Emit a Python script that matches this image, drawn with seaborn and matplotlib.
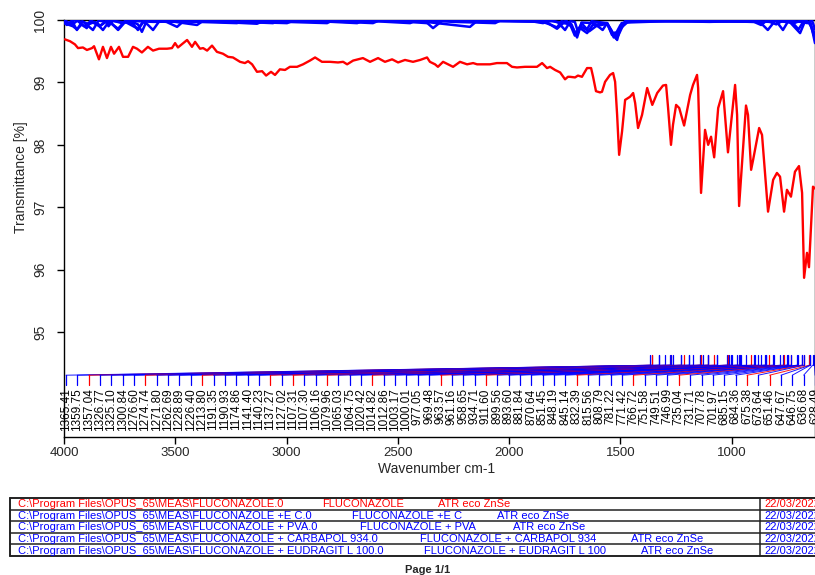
import numpy as np
import pandas as pd
import matplotlib
matplotlib.use("Agg")
import matplotlib.pyplot as plt
import seaborn as sns

# ---------------- data ----------------
red_wn = [3996, 3973, 3951, 3937, 3915, 3897, 3874, 3865, 3843, 3825, 3807, 3789, 3775, 3753,
          3735, 3712, 3690, 3672, 3650, 3623, 3600, 3573, 3537, 3515, 3501, 3488, 3447, 3425,
          3411, 3389, 3375, 3357, 3335, 3313, 3286, 3263, 3241, 3209, 3187, 3173, 3155, 3133,
          3110, 3092, 3070, 3052, 3030, 3007, 2985, 2953, 2926, 2895, 2872, 2841, 2805, 2769,
          2746, 2728, 2701, 2657, 2625, 2589, 2558, 2526, 2499, 2468, 2432, 2400, 2369, 2356,
          2333, 2320, 2297, 2275, 2252, 2221, 2189, 2162, 2144, 2086, 2055, 2010, 1987, 1965,
          1929, 1897, 1875, 1852, 1830, 1816, 1794, 1771, 1749, 1736, 1727, 1704, 1691, 1673,
          1650, 1632, 1623, 1610, 1592, 1583, 1569, 1547, 1533, 1524, 1515, 1506, 1493, 1479,
          1457, 1443, 1434, 1421, 1403, 1380, 1357, 1335, 1309, 1295, 1286, 1273, 1264, 1250,
          1236, 1214, 1187, 1174, 1156, 1151, 1138, 1120, 1106, 1093, 1079, 1061, 1039, 1017,
          985, 976, 967, 936, 927, 913, 904, 877, 864, 837, 814, 797, 783, 765, 752, 734, 716,
          698, 684, 675, 662, 653, 635, 626]
red_T = [99.69, 99.66, 99.61, 99.55, 99.56, 99.52, 99.55, 99.58, 99.37, 99.57, 99.39, 99.57, 99.46, 99.57,
         99.41, 99.41, 99.57, 99.54, 99.48, 99.57, 99.51, 99.54, 99.54, 99.55, 99.63, 99.56, 99.68, 99.57,
         99.65, 99.54, 99.55, 99.51, 99.59, 99.49, 99.46, 99.41, 99.40, 99.33, 99.31, 99.34, 99.29, 99.17,
         99.18, 99.11, 99.17, 99.12, 99.21, 99.20, 99.25, 99.25, 99.29, 99.35, 99.40, 99.33, 99.33, 99.32,
         99.33, 99.29, 99.35, 99.39, 99.33, 99.39, 99.33, 99.37, 99.32, 99.36, 99.33, 99.36, 99.40, 99.33,
         99.29, 99.25, 99.33, 99.29, 99.25, 99.33, 99.29, 99.31, 99.29, 99.29, 99.31, 99.31, 99.25, 99.24,
         99.25, 99.25, 99.25, 99.31, 99.23, 99.25, 99.20, 99.16, 99.05, 99.09, 99.09, 99.08, 99.11, 99.09,
         99.23, 99.23, 99.09, 98.86, 98.84, 98.85, 99.01, 99.12, 99.15, 99.01, 98.48, 97.84, 98.21, 98.72,
         98.77, 98.83, 98.67, 98.27, 98.48, 98.91, 98.64, 98.83, 98.95, 98.96, 98.59, 98.00, 98.32, 98.64,
         98.59, 98.31, 98.80, 98.96, 99.12, 98.91, 97.23, 98.24, 98.00, 98.13, 97.80, 98.59, 98.86, 97.88,
         98.96, 98.48, 97.02, 98.63, 98.48, 97.60, 97.76, 98.27, 98.16, 96.93, 97.44, 97.55, 97.49, 96.93,
         97.28, 97.17, 97.57, 97.66, 97.23, 95.87, 96.27, 96.04, 97.33, 97.30]

ec_wn = [4000, 3987, 3965, 3942, 3918, 3890, 3862, 3836, 3812, 3800, 3780, 3740, 3700, 3668, 3650,
         3628, 3540, 3492, 3460, 3300, 3133, 3100, 2700, 2380, 2342, 2300, 1900, 1830, 1785, 1745,
         1720, 1695, 1675, 1650, 1630, 1560, 1515, 1495, 1420, 1100, 880, 838, 805, 740, 693, 670,
         645, 626]
ec_T = [99.96, 99.92, 99.99, 99.84, 99.98, 99.93, 99.97, 99.91, 99.98, 99.90, 99.99, 99.95, 99.98, 99.93,
        99.81, 99.99, 99.97, 99.89, 99.99, 99.97, 99.94, 99.99, 99.98, 99.99, 99.87, 99.99, 99.98, 99.96,
        99.86, 99.99, 99.93, 99.72, 99.95, 99.85, 99.98, 99.95, 99.68, 99.95, 99.99, 99.97, 99.99, 99.84,
        99.99, 99.97, 99.79, 99.99, 99.95, 99.63]

pva_wn = [4000, 3975, 3955, 3910, 3870, 3845, 3790, 3757, 3725, 3690, 3668, 3640, 3500, 3402, 3370,
          3180, 2998, 2960, 2800, 2612, 2580, 2400, 2176, 2140, 1900, 1848, 1810, 1780, 1749, 1725,
          1705, 1690, 1675, 1620, 1580, 1560, 1538, 1524, 1510, 1480, 1200, 900, 800, 770, 745, 690,
          660, 640, 626]
pva_T = [99.98, 99.93, 100.0, 99.96, 99.84, 99.99, 99.96, 99.84, 99.97, 99.94, 99.84, 99.99, 99.97, 99.92,
         100.0, 99.97, 99.95, 100.0, 99.98, 99.95, 100.0, 99.98, 99.89, 100.0, 99.98, 99.95, 99.99, 99.96,
         99.84, 99.98, 99.97, 99.80, 99.96, 99.95, 99.84, 99.95, 99.76, 99.80, 99.75, 99.98, 99.99, 99.97,
         99.98, 99.84, 99.99, 99.97, 99.95, 100.0, 99.85]

carb_wn = [4000, 3960, 3942, 3920, 3898, 3880, 3855, 3825, 3795, 3720, 3668, 3645, 3625, 3600, 3570,
           3400, 3223, 3190, 3000, 2818, 2790, 2600, 2445, 2415, 2250, 2063, 2035, 1800, 1740, 1720,
           1700, 1680, 1640, 1610, 1560, 1530, 1500, 1460, 1100, 900, 868, 840, 760, 720, 690, 655,
           635, 626]
carb_T = [99.95, 99.90, 99.85, 99.93, 99.87, 99.99, 99.95, 99.84, 99.99, 99.96, 99.86, 99.97, 99.93, 99.84,
          99.99, 99.97, 99.95, 100.0, 99.97, 99.95, 100.0, 99.98, 99.95, 100.0, 99.97, 99.95, 100.0, 99.98,
          99.94, 99.90, 99.78, 99.90, 99.82, 99.90, 99.94, 99.72, 99.92, 99.98, 99.98, 99.97, 99.92, 100.0,
          99.97, 99.95, 99.99, 99.96, 99.85, 99.75]

eud_wn = [4000, 3985, 3965, 3940, 3910, 3880, 3840, 3805, 3757, 3725, 3600, 3400, 3200, 3061, 3030,
          2850, 2683, 2650, 2500, 2369, 2340, 2000, 1850, 1810, 1785, 1765, 1730, 1705, 1685, 1650,
          1625, 1560, 1520, 1505, 1470, 1300, 950, 830, 800, 770, 730, 700, 675, 650, 626]
eud_T = [100.0, 99.97, 99.92, 99.99, 99.90, 99.98, 99.90, 99.99, 99.86, 99.99, 99.97, 99.98, 99.97, 99.95,
         100.0, 99.98, 99.95, 100.0, 99.98, 99.95, 100.0, 99.98, 99.97, 99.92, 99.88, 99.98, 99.96, 99.75,
         99.88, 99.79, 99.92, 99.95, 99.70, 99.85, 99.96, 99.98, 99.99, 99.97, 99.93, 99.99, 99.97, 99.85,
         99.99, 99.96, 99.70]

peak_wn = [1365.41, 1359.75, 1357.04, 1326.77, 1325.10, 1300.84, 1276.60, 1274.74, 1271.80, 1262.69,
           1228.89, 1226.40, 1213.80, 1191.35, 1190.93, 1174.86, 1141.40, 1140.23, 1137.27, 1127.02,
           1107.31, 1107.30, 1106.16, 1079.96, 1065.03, 1064.75, 1020.42, 1014.82, 1012.86, 1003.17,
           1000.01, 977.05, 969.48, 963.57, 961.16, 958.65, 934.71, 911.60, 899.56, 893.60,
           881.84, 870.64, 851.45, 848.19, 845.14, 832.39, 815.56, 808.79, 781.22, 771.42,
           766.72, 751.58, 749.51, 746.99, 735.04, 731.71, 707.78, 701.97, 685.15, 684.36,
           675.38, 673.64, 651.46, 647.67, 646.75, 636.68, 628.49]
peak_src = ['b', 'b', 'r', 'b', 'b', 'b', 'b', 'r', 'b', 'b',
            'b', 'b', 'r', 'b', 'b', 'b', 'b', 'b', 'r', 'b',
            'r', 'b', 'b', 'r', 'b', 'b', 'b', 'r', 'b', 'b',
            'b', 'b', 'b', 'r', 'b', 'b', 'b', 'r', 'b', 'b',
            'b', 'b', 'b', 'b', 'b', 'r', 'b', 'b', 'b', 'b',
            'r', 'b', 'b', 'b', 'r', 'b', 'b', 'b', 'b', 'b',
            'r', 'b', 'r', 'b', 'b', 'b', 'b']

x_ticks = [4000, 3500, 3000, 2500, 2000, 1500, 1000]
y_ticks = [95, 96, 97, 98, 99, 100]

sample_files = [r"C:\Program Files\OPUS_65\MEAS\FLUCONAZOLE.0",
                r"C:\Program Files\OPUS_65\MEAS\FLUCONAZOLE +E C.0",
                r"C:\Program Files\OPUS_65\MEAS\FLUCONAZOLE + PVA.0",
                r"C:\Program Files\OPUS_65\MEAS\FLUCONAZOLE + CARBAPOL 934.0",
                r"C:\Program Files\OPUS_65\MEAS\FLUCONAZOLE + EUDRAGIT L 100.0"]
sample_names = ["FLUCONAZOLE", "FLUCONAZOLE +E C", "FLUCONAZOLE + PVA",
                "FLUCONAZOLE + CARBAPOL 934", "FLUCONAZOLE + EUDRAGIT L 100"]
sample_acc = ["ATR eco ZnSe"] * 5
sample_dates = ["22/03/2022"] * 5

RED = "#ff0000"
BLUE = "#0000ff"
COLORS = {"r": RED, "b": BLUE}

# ---------------- style ----------------
sns.set_style("ticks")
plt.rcParams["font.family"] = ["Liberation Sans", "DejaVu Sans"]

fig = plt.figure(figsize=(8.15, 5.75), dpi=100)
fig.patch.set_facecolor("white")

# layout overlay (pixel coordinates) for the sample table
lay = fig.add_axes([0, 0, 1, 1], zorder=-1)
lay.set_xlim(0, 815)
lay.set_ylim(575, 0)
lay.axis("off")

ax = fig.add_axes([64 / 815, 1 - 437 / 575, 751 / 815, 417 / 575])
ax.set_facecolor("none")

XMIN, XMAX = 4000, 626
YMIN, YMAX = 93.32, 100.0

# blue spectra
for wn, tt in [(ec_wn, ec_T), (pva_wn, pva_T), (carb_wn, carb_T), (eud_wn, eud_T)]:
    sns.lineplot(x=np.array(wn), y=np.array(tt), ax=ax, color=BLUE, lw=1.8,
                 sort=False, estimator=None, zorder=3)
# red spectrum
sns.lineplot(x=np.array(red_wn), y=np.array(red_T), ax=ax, color=RED, lw=1.7,
             sort=False, estimator=None, zorder=4)

ax.set_xlim(XMIN, XMAX)
ax.set_ylim(YMIN, YMAX)

# peak annotations
n = len(peak_wn)
label_pos = np.linspace(3991, 626, n)
y_ptop, y_pbot, y_lab, y_ltick, y_text = 94.63, 94.47, 94.31, 94.15, 94.10
for pw, lp, src in zip(peak_wn, label_pos, peak_src):
    c = COLORS[src]
    ax.plot([pw, pw], [y_pbot, y_ptop], color=c, lw=0.9, zorder=2)
    ax.plot([pw, lp], [y_pbot, y_lab], color=c, lw=0.7, zorder=2, alpha=0.9)
    ax.plot([lp, lp], [y_lab, y_ltick], color=c, lw=0.9, zorder=2)
    ax.text(lp, y_text, f"{pw:.2f}", rotation=90, ha="center", va="top",
            fontsize=8.5, color="black", clip_on=False)

# axes formatting
ax.set_xticks(x_ticks)
ax.set_xticklabels([str(v) for v in x_ticks])
ax.set_yticks(y_ticks)
ax.set_yticklabels([str(v) for v in y_ticks])
ax.tick_params(axis="x", length=5, width=1, pad=2.5, labelsize=9.5, color="black")
ax.tick_params(axis="y", length=5, width=1, pad=7, labelsize=10, labelrotation=90, color="black")
for lab in ax.get_yticklabels():
    lab.set_va("center")
for side in ["left", "bottom", "top", "right"]:
    ax.spines[side].set_color("black")
    ax.spines[side].set_linewidth(1.0)

ax.set_xlabel("Wavenumber cm-1", fontsize=10)
ax.set_ylabel("Transmittance [%]", fontsize=10)
ax.xaxis.set_label_coords((437 - 64) / 751, -(462 - 437) / 417)
ax.yaxis.set_label_coords((28 - 64) / 751, (437 - 177) / 417)

# ---------------- sample table ----------------
row_tops = [498, 509.6, 521.2, 532.8, 544.4, 556]
name_x = [322, 352, 360, 420, 424]
acc_x = [438, 497, 513, 631, 641]
lay.plot([10, 10], [498, 556], color="#222222", lw=1.4)
lay.plot([760, 760], [498, 556], color="#222222", lw=1.1)
for i, yy in enumerate(row_tops):
    lw = 1.4 if i in (0, len(row_tops) - 1) else 1.1
    lay.plot([10, 830], [yy, yy], color="#222222", lw=lw, clip_on=False)
row_colors = [RED, BLUE, BLUE, BLUE, BLUE]
for i in range(5):
    yc = (row_tops[i] + row_tops[i + 1]) / 2 + 0.5
    c = row_colors[i]
    lay.text(18, yc, sample_files[i], color=c, fontsize=8, va="center", ha="left")
    lay.text(name_x[i], yc, sample_names[i], color=c, fontsize=8, va="center", ha="left")
    lay.text(acc_x[i], yc, sample_acc[i], color=c, fontsize=8, va="center", ha="left")
    lay.text(764, yc, sample_dates[i], color=c, fontsize=8, va="center", ha="left")

lay.text(428, 570, "Page 1/1", fontsize=8, fontweight="bold", ha="center", va="center")

fig.savefig("out.png", dpi=100, facecolor="white")
